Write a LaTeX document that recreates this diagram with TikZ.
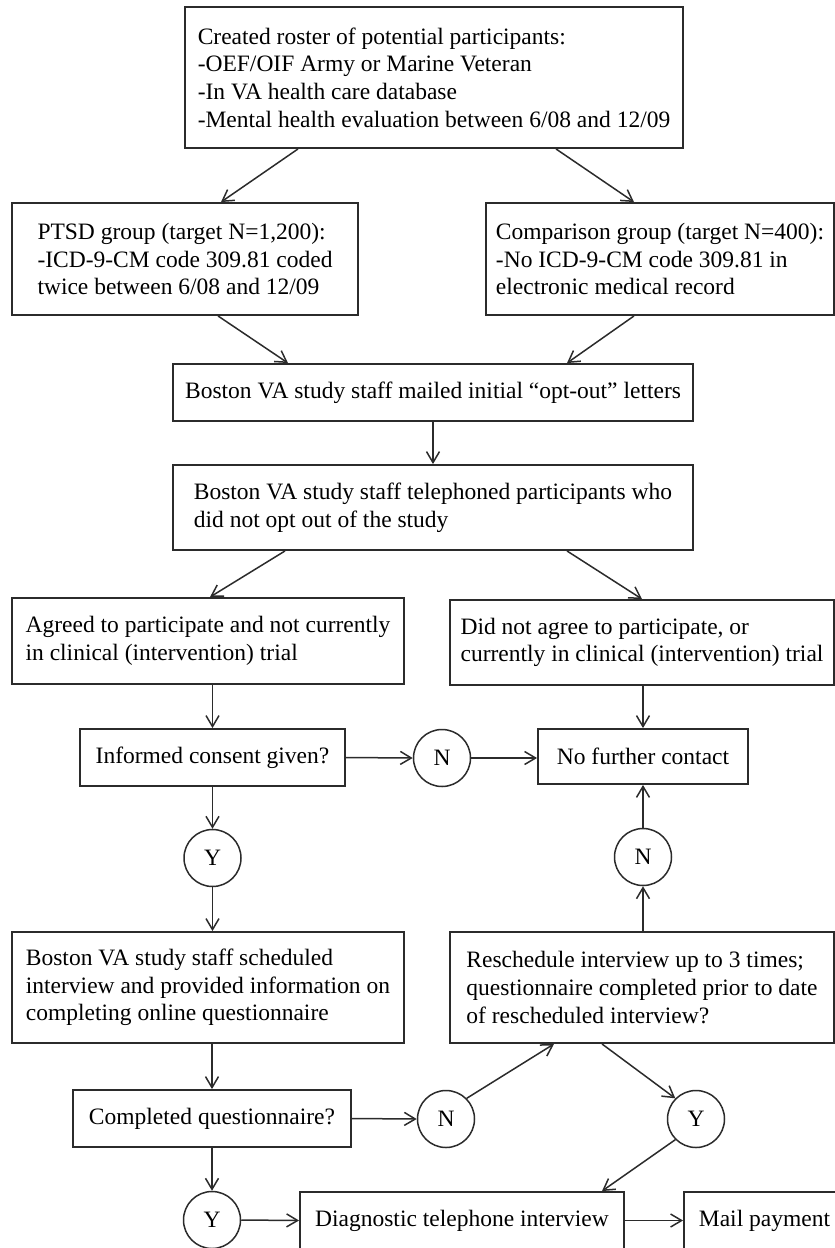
\documentclass[tikz,border=0pt]{standalone}
\usepackage{fontspec}
\setmainfont{Liberation Serif}
\usepackage{xcolor}
\usepackage{tikz}
\usetikzlibrary{arrows.meta}
\definecolor{flowline}{HTML}{2b2b2b}

\begin{document}
\begin{tikzpicture}[x=1pt,y=-1pt,
  flowbox/.style 2 args={draw=flowline,line width=1.9pt,align=left,inner sep=0pt,
    minimum width=#1pt,minimum height=#2pt,font=\fontsize{23.5}{27.7}\selectfont},
  answer/.style={draw=flowline,line width=1.5pt,circle,minimum size=57pt,inner sep=0pt,
    font=\fontsize{23.5}{27.7}\selectfont},
  arr/.style={draw=flowline,line width=1.5pt,-{Straight Barb[length=11pt,width=13pt]}}]
  \useasboundingbox (0,0) rectangle (835,1248);
  \clip (0,0) rectangle (835,1248);
  % boxes
  \node[flowbox={498}{141}] (roster) at (434,77.5) {Created roster of potential participants:\\-OEF/OIF Army or Marine Veteran\\-In VA health care database\\-Mental health evaluation between 6/08 and 12/09};
  \node[flowbox={346}{112}] (ptsd) at (185,259) {PTSD group (target N=1,200):\\-ICD-9-CM code 309.81 coded\\twice between 6/08 and 12/09};
  \node[flowbox={348}{112}] (comp) at (660,259) {Comparison group (target N=400):\\-No ICD-9-CM code 309.81 in\\electronic medical record};
  \node[flowbox={520}{57}] (mailed) at (433,392.5) {Boston VA study staff mailed initial “opt-out” letters};
  \node[flowbox={520}{85}] (phoned) at (433,507.5) {Boston VA study staff telephoned participants who\\did not opt out of the study};
  \node[flowbox={392}{86}] (agreed) at (208,641) {Agreed to participate and not currently\\in clinical (intervention) trial};
  \node[flowbox={384}{85}] (declined) at (642,642.5) {Did not agree to participate, or\\currently in clinical (intervention) trial};
  \node[flowbox={265}{57}] (consent) at (212.5,757.5) {Informed consent given?};
  \node[flowbox={210}{55}] (nocont) at (643,756.5) {No further contact};
  \node[flowbox={392}{111}] (sched) at (208,987.5) {Boston VA study staff scheduled\\interview and provided information on\\completing online questionnaire};
  \node[flowbox={384}{111}] (resched) at (642,987.5) {Reschedule interview up to 3 times;\\questionnaire completed prior to date\\of rescheduled interview?};
  \node[flowbox={278}{57}] (done) at (212,1118.5) {Completed questionnaire?};
  \node[flowbox={324}{57}] (diag) at (462,1220.5) {Diagnostic telephone interview};
  \node[flowbox={161}{57}] (pay) at (764.5,1220.5) {Mail payment};
  % yes / no
  \node[answer] (n1) at (442,758) {N};
  \node[answer] (y1) at (212.5,858) {Y};
  \node[answer] (n2) at (643,857) {N};
  \node[answer] (n3) at (446,1119) {N};
  \node[answer] (y2) at (696,1119) {Y};
  \node[answer] (y3) at (212,1220) {Y};
  % connectors
  \draw[arr] ([xshift=-136pt]roster.south) -- ([xshift=36pt]ptsd.north);
  \draw[arr] ([xshift=122pt]roster.south) -- ([xshift=-26pt]comp.north);
  \draw[arr] ([xshift=33pt]ptsd.south) -- ([xshift=-145pt]mailed.north);
  \draw[arr] ([xshift=-26pt]comp.south) -- ([xshift=134pt]mailed.north);
  \draw[arr] (mailed.south) -- (phoned.north);
  \draw[arr] ([xshift=-148pt]phoned.south) -- ([xshift=2pt]agreed.north);
  \draw[arr] ([xshift=134pt]phoned.south) -- (declined.north);
  \draw[arr] (consent.north |- agreed.south) -- (consent.north);
  \draw[arr] (nocont.north |- declined.south) -- (nocont.north);
  \draw[arr] (consent.east) -- (n1.west);
  \draw[arr] (n1.east) -- (n1.east -| nocont.west);
  \draw[arr] (consent.south) -- (y1.north);
  \draw[arr] (y1.south) -- (y1.south |- sched.north);
  \draw[arr] (n2.north) -- (n2.north |- nocont.south);
  \draw[arr] (n2.south |- resched.north) -- (n2.south);
  \draw[arr] (done.north |- sched.south) -- (done.north);
  \draw[arr] (done.east) -- (n3.west);
  \draw[arr] (n3.north east) -- ([xshift=-88pt]resched.south);
  \draw[arr] ([xshift=-40pt]resched.south) -- (y2.north west);
  \draw[arr] (y2.south west) -- ([xshift=140pt]diag.north);
  \draw[arr] (done.south) -- (y3.north);
  \draw[arr] (y3.east) -- (diag.west);
  \draw[arr] (diag.east) -- (pay.west);
\end{tikzpicture}
\end{document}
